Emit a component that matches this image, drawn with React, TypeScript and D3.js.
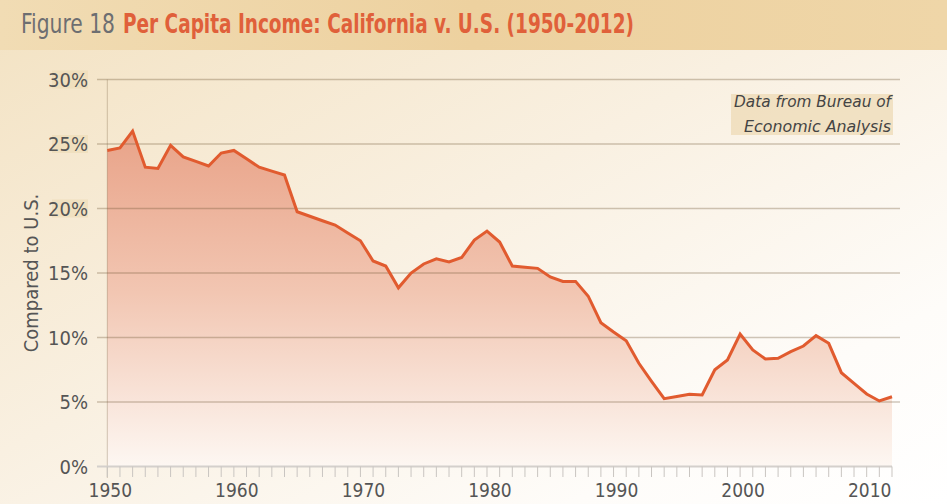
import React from 'react';
import * as d3 from 'd3';

// CA per capita income compared to U.S. (percent above U.S. average)
const years = d3.range(1950, 2013);
const values = [
  24.5, 24.7, 26.0, 23.2, 23.1, 24.9, 24.0, 23.65, 23.3, 24.3,
  24.5, 23.85, 23.2, 22.9, 22.6, 19.75, 19.4, 19.05, 18.72, 18.1,
  17.5, 15.93, 15.54, 13.85, 15.0, 15.7, 16.1, 15.85, 16.2, 17.55,
  18.25, 17.4, 15.54, 15.45, 15.36, 14.7, 14.35, 14.35, 13.2, 11.15,
  10.43, 9.75, 8.0, 6.6, 5.26, 5.43, 5.6, 5.54, 7.5, 8.26,
  10.27, 9.03, 8.33, 8.39, 8.9, 9.34, 10.14, 9.55, 7.27, 6.45,
  5.62, 5.08, 5.41
];
const yTicks = [0, 5, 10, 15, 20, 25, 30];
const xLabels = [1950, 1960, 1970, 1980, 1990, 2000, 2010];

const WIDTH = 947;
const HEIGHT = 504;
const NARROW = '"Liberation Sans Narrow", "DejaVu Sans Condensed", "Liberation Sans", sans-serif';

const data = years.map((year, i) => ({ year, value: values[i] }));

const x = d3.scaleLinear().domain([1950, 2012]).range([107.3, 892]);
const y = d3.scaleLinear().domain([0, 30]).range([466.5, 79.5]);

const area = d3.area<{ year: number; value: number }>()
  .x(d => x(d.year))
  .y0(y(0))
  .y1(d => y(d.value));

const line = d3.line<{ year: number; value: number }>()
  .x(d => x(d.year))
  .y(d => y(d.value));

export default function App() {
  return (
    <svg width={WIDTH} height={HEIGHT} style={{ position: 'absolute', left: 0, top: 0 }}>
      <defs>
        <linearGradient id="bg" x1="0" y1="0" x2="1" y2="1">
          <stop offset="0" stopColor="#f3e2c2" />
          <stop offset="0.45" stopColor="#f9f0e1" />
          <stop offset="0.8" stopColor="#fefcf9" />
          <stop offset="1" stopColor="#ffffff" />
        </linearGradient>
        <linearGradient id="band" x1="0" y1="0" x2="1" y2="0">
          <stop offset="0" stopColor="#f1dcb4" />
          <stop offset="0.5" stopColor="#edd19f" />
          <stop offset="1" stopColor="#efd6a8" />
        </linearGradient>
        <linearGradient id="fill" gradientUnits="userSpaceOnUse" x1="0" y1={y(27)} x2="0" y2={y(0)}>
          <stop offset="0" stopColor="#e8a085" />
          <stop offset="0.5" stopColor="#f2c6b2" />
          <stop offset="1" stopColor="#fdf7f2" />
        </linearGradient>
      </defs>

      <rect width={WIDTH} height={HEIGHT} fill="url(#bg)" />
      <rect width={WIDTH} height={50} fill="url(#band)" />

      <text x={21} y={33} fontFamily={NARROW} fontSize={27} fill="#6d6e71"
        textLength={94} lengthAdjust="spacingAndGlyphs">Figure 18</text>
      <text x={123} y={33} fontFamily={NARROW} fontSize={27} fontWeight="bold" fill="#e0603a"
        textLength={511} lengthAdjust="spacingAndGlyphs">Per Capita Income: California v. U.S. (1950-2012)</text>

      <path d={area(data) || ''} fill="url(#fill)" />

      {yTicks.filter(t => t > 0).map(t => (
        <line key={t} x1={97} x2={900} y1={y(t)} y2={y(t)}
          stroke="rgba(110,85,50,0.32)" strokeWidth={1.5} />
      ))}
      <line x1={x(1950)} x2={x(1950)} y1={y(30)} y2={478} stroke="rgba(110,85,50,0.3)" strokeWidth={1} />

      <line x1={97} x2={892} y1={y(0)} y2={y(0)} stroke="#d4d0cc" strokeWidth={2} />
      {years.map(yr => (
        <line key={yr} x1={x(yr)} x2={x(yr)} y1={y(0)} y2={477} stroke="#c9c5c1" strokeWidth={1} />
      ))}

      {yTicks.map(t => (
        <g key={t}>
          {t >= 20 && <rect x={52} y={y(t) - 9} width={36} height={18} fill="#eddab4" opacity={0.6} />}
          <text x={88} y={y(t)} dy="0.36em" textAnchor="end" fontFamily={NARROW} fontSize={20} fill="#555555">{t}%</text>
        </g>
      ))}

      {xLabels.map(yr => (
        <text key={yr} x={x(yr) + 3} y={497} textAnchor="middle" fontFamily={NARROW} fontSize={19} fill="#555555">{yr}</text>
      ))}

      <text transform={`translate(38, ${y(15)}) rotate(-90)`} textAnchor="middle"
        fontFamily={NARROW} fontSize={20} fill="#555555">Compared to U.S.</text>

      <rect x={731} y={94} width={162} height={41} fill="#ecd8b2" opacity={0.7} />
      <text x={891} y={107} textAnchor="end" fontFamily={NARROW} fontStyle="italic" fontSize={16} fill="#444444"
        textLength={157} lengthAdjust="spacingAndGlyphs">Data from Bureau of</text>
      <text x={891} y={132} textAnchor="end" fontFamily={NARROW} fontStyle="italic" fontSize={16} fill="#444444"
        textLength={147} lengthAdjust="spacingAndGlyphs">Economic Analysis</text>

      <path d={line(data) || ''} fill="none" stroke="#e15b2f" strokeWidth={3} strokeLinejoin="miter" />
    </svg>
  );
}
